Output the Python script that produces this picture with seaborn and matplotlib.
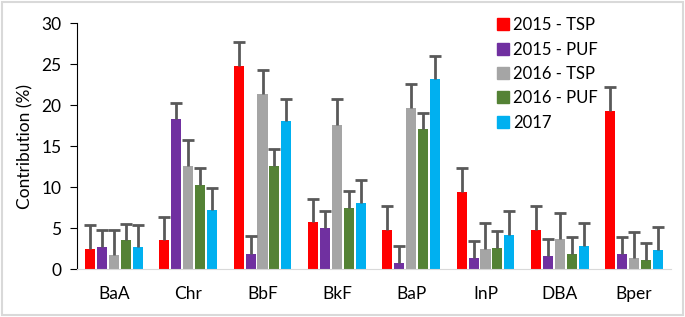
import seaborn as sns
import matplotlib.pyplot as plt
import pandas as pd
from matplotlib.patches import Rectangle
from matplotlib.lines import Line2D

compounds = ['BaA', 'Chr', 'BbF', 'BkF', 'BaP', 'InP', 'DBA', 'Bper']
series = ['2015 - TSP', '2015 - PUF', '2016 - TSP', '2016 - PUF', '2017']
colors = ['#ff0000', '#7030a0', '#a5a5a5', '#548235', '#00b0f0']

tsp_2015 = [2.5, 3.6, 24.8, 5.7, 4.8, 9.4, 4.8, 19.3]
puf_2015 = [2.7, 18.3, 1.9, 5.0, 0.7, 1.3, 1.6, 1.8]
tsp_2016 = [1.7, 12.6, 21.3, 17.6, 19.6, 2.5, 3.7, 1.4]
puf_2016 = [3.5, 10.2, 12.6, 7.5, 17.1, 2.6, 1.9, 1.1]
all_2017 = [2.7, 7.2, 18.1, 8.1, 23.2, 4.2, 2.8, 2.3]

err_2015_tsp = [2.9, 2.8, 2.9, 2.9, 2.9, 2.9, 2.9, 2.9]
err_2015_puf = [2.1, 2.0, 2.1, 2.1, 2.1, 2.1, 2.1, 2.1]
err_2016_tsp = [3.1, 3.1, 3.0, 3.1, 3.0, 3.1, 3.1, 3.1]
err_2016_puf = [2.0, 2.1, 2.0, 2.0, 2.0, 2.0, 2.0, 2.1]
err_2017 = [2.7, 2.7, 2.7, 2.8, 2.8, 2.9, 2.8, 2.8]

values = [tsp_2015, puf_2015, tsp_2016, puf_2016, all_2017]
errors = [err_2015_tsp, err_2015_puf, err_2016_tsp, err_2016_puf, err_2017]

rows = []
for name, vals, errs in zip(series, values, errors):
    for c, v, e in zip(compounds, vals, errs):
        rows.append({'Compound': c, 'Series': name, 'Value': v, 'Err': e})
df = pd.DataFrame(rows)

plt.rcParams['font.family'] = ['Lato', 'DejaVu Sans']

fig = plt.figure(figsize=(6.85, 3.17), dpi=100)
ax = fig.add_axes([0.112, 0.151, 0.868, 0.776])

sns.barplot(data=df, x='Compound', y='Value', hue='Series', order=compounds,
            hue_order=series, palette=colors, width=0.8, gap=0.15,
            errorbar=None, saturation=1, ax=ax, legend=False)

# one-sided error bars, placed on the bars seaborn drew
for container, name in zip(ax.containers, series):
    sub = df[df['Series'] == name].set_index('Compound').loc[compounds]
    xs = [p.get_x() + p.get_width() / 2 for p in container.patches]
    eb = ax.errorbar(xs, sub['Value'], yerr=[[0] * len(xs), sub['Err']],
                     fmt='none', ecolor='#595959', elinewidth=2, capsize=4,
                     capthick=2, zorder=3)
    # drop the lower cap sitting on the bar top
    eb[1][0].set_visible(False)

ax.set_ylim(0, 30)
ax.set_xlim(-0.5, len(compounds) - 0.5)
ax.set_yticks(range(0, 31, 5))
ax.set_xlabel('')
ax.set_ylabel('Contribution (%)', fontsize=12.5, labelpad=6)
ax.spines['top'].set_visible(False)
ax.spines['right'].set_visible(False)
ax.spines['left'].set_color('black')
ax.spines['bottom'].set_color('#d9d9d9')
ax.tick_params(axis='y', length=5, labelsize=12.5, pad=6)
ax.tick_params(axis='x', length=0, labelsize=12.5, pad=12)

handles = [Line2D([], [], marker='s', linestyle='none', markersize=9,
                  markerfacecolor=c, markeredgecolor=c) for c in colors]
ax.legend(handles, series, loc='upper left', bbox_to_anchor=(0.675, 1.085),
          frameon=False, fontsize=12, handletextpad=0.0, labelspacing=0.5,
          handlelength=1.2)

fig.patches.append(Rectangle((0.003, 0.005), 0.994, 0.99, transform=fig.transFigure,
                             fill=False, edgecolor='#d9d9d9', linewidth=1.5))

fig.savefig('out.png', dpi=100)
